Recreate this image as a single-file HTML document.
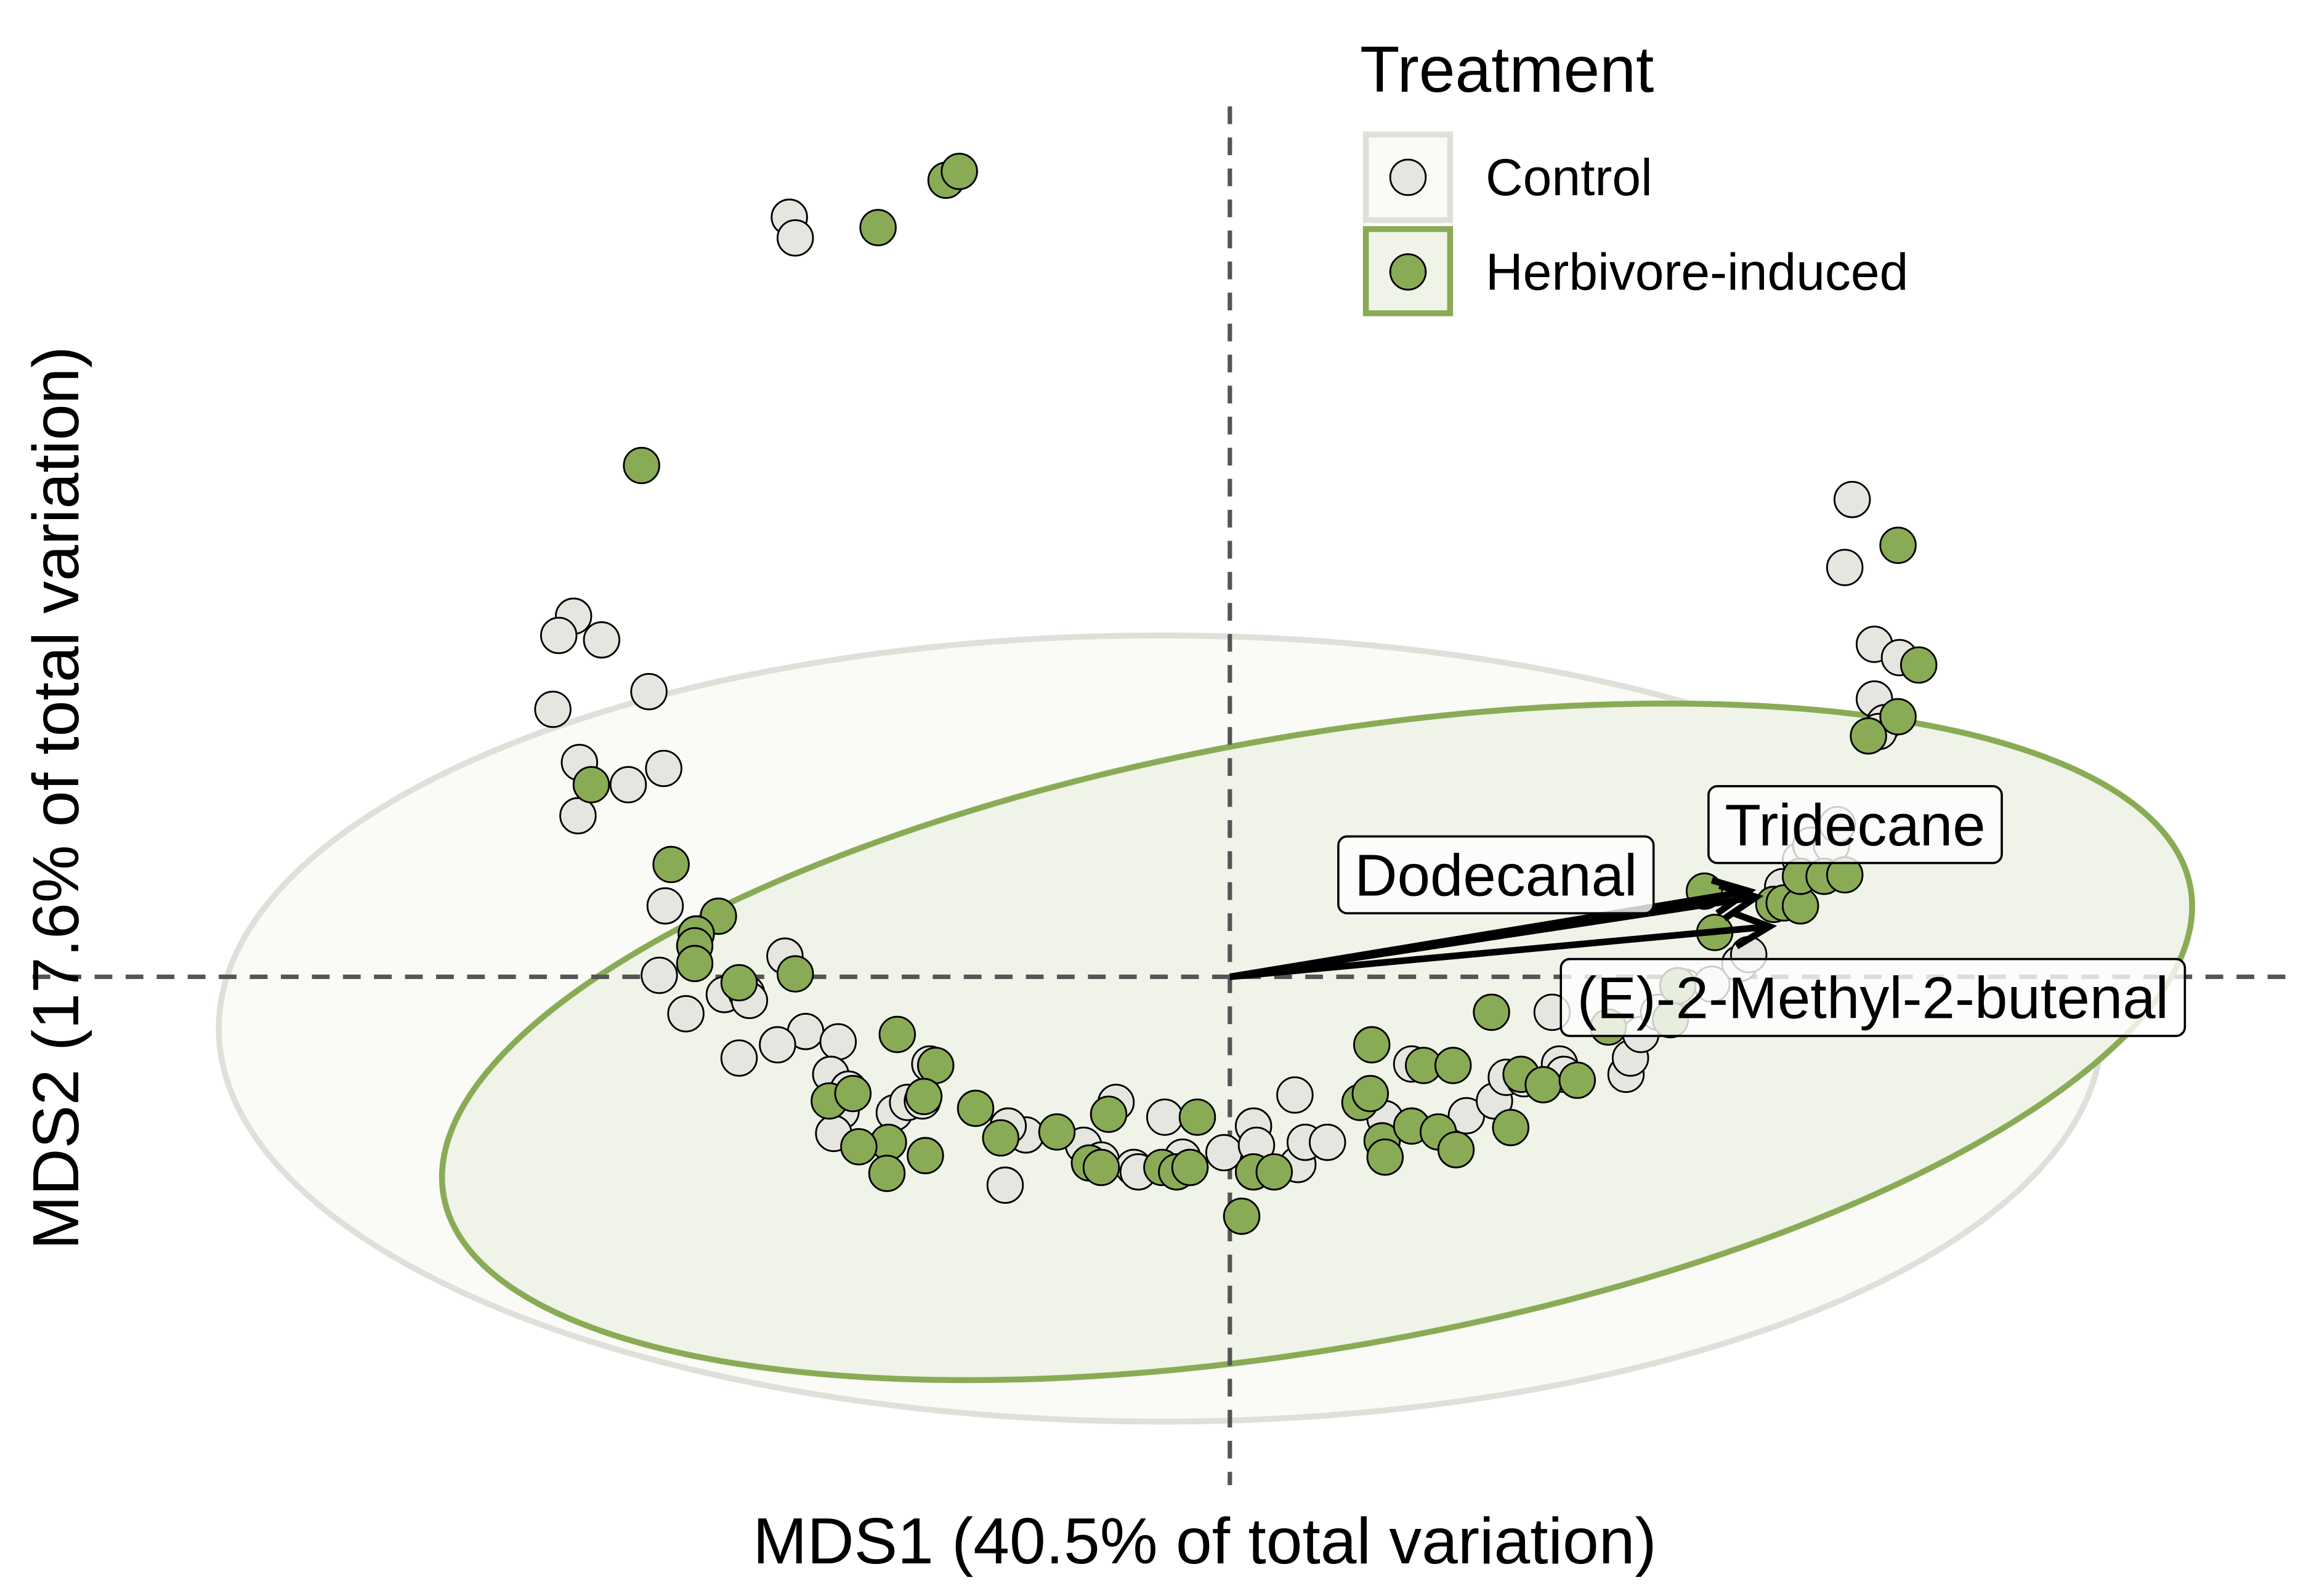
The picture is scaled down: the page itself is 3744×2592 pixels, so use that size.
<!DOCTYPE html>
<html><head><meta charset="utf-8"><style>html,body{margin:0;padding:0;background:#fff}svg{display:block}</style></head>
<body>
<svg id="chart" xmlns="http://www.w3.org/2000/svg" width="3744" height="2592" viewBox="0 0 1560 1080" font-family="Liberation Sans, sans-serif">
<rect width="1560" height="1080" fill="#fff"/>
<g id="plot"></g>
<text x="815" y="1058" font-size="44" text-anchor="middle">MDS1 (40.5% of total variation)</text>
<text transform="translate(53,540) rotate(-90)" font-size="44" text-anchor="middle">MDS2 (17.6% of total variation)</text>
<g>
<text x="920" y="62" font-size="44">Treatment</text>
<rect x="924" y="91" width="57" height="58" fill="#fafaf7" stroke="#e0e0da" stroke-width="4"/>
<circle cx="952.5" cy="120" r="12" fill="#e6e6e1" stroke="#000" stroke-width="1.2"/>
<text x="1005" y="132" font-size="35">Control</text>
<rect x="924" y="155" width="57" height="57" fill="#eff3e8" stroke="#8aab55" stroke-width="4"/>
<circle cx="952.5" cy="184" r="12" fill="#8aab55" stroke="#000" stroke-width="1.2"/>
<text x="1005" y="196" font-size="35">Herbivore-induced</text>
</g>
</svg>
<script>
const controlX=[-2.98,-2.94,-4.44,-4.54,-4.25,-3.93,-4.58,-4.40,-3.83,-4.07,-4.41,-3.82,-3.86,-3.42,-3.27,-3.25,-3.68,-3.01,-2.87,-3.06,-3.32,-2.65,-2.70,-2.58,-2.63,-2.27,-2.18,-2.68,-2.03,-2.08,-1.52,-1.38,-1.50,-0.77,-0.99,-0.87,-0.65,-0.62,-0.44,-0.32,-0.27,-0.04,0.16,0.18,0.44,0.46,0.51,0.66,1.05,1.23,1.60,1.79,1.87,1.99,2.23,2.26,2.68,2.71,2.78,2.90,3.08,3.26,3.45,3.51,2.18,3.86,3.93,4.07,4.11,3.74,4.21,4.16,4.36,4.53,4.36,4.43,4.39];
const controlY=[5.14,5.00,2.44,2.31,2.28,1.93,1.81,1.45,1.41,1.30,1.09,0.48,0.01,-0.12,-0.11,-0.16,-0.25,0.14,-0.37,-0.46,-0.55,-0.44,-0.66,-0.76,-0.91,-0.92,-0.85,-1.06,-0.59,-0.84,-1.41,-1.07,-1.01,-0.85,-1.14,-1.24,-1.29,-1.32,-0.95,-1.22,-1.29,-1.19,-1.01,-1.14,-0.80,-1.27,-1.12,-1.12,-0.96,-0.59,-0.94,-0.84,-0.68,-0.69,-0.59,-0.66,-0.66,-0.55,-0.39,-0.24,-0.07,-0.05,0.09,0.15,-0.24,0.79,0.89,0.89,1.03,0.61,3.23,2.77,2.25,2.16,1.88,1.72,1.66];
const herbX=[-2.38,-1.92,-1.83,-3.98,-4.32,-3.78,-3.46,-3.61,-3.62,-3.62,-3.32,-2.94,-2.25,-2.71,-2.55,-1.99,-2.07,-2.31,-2.51,-2.32,-2.06,-1.72,-1.55,-1.17,-0.82,-0.95,-0.87,-0.46,-0.36,-0.22,-0.27,0.08,0.16,0.30,0.88,0.96,0.95,1.31,1.51,1.03,1.05,1.23,1.41,1.53,1.90,1.97,2.12,2.35,1.77,2.56,2.98,3.03,3.21,3.28,3.68,3.75,3.86,3.86,4.02,4.16,4.52,4.66,4.52,4.32];
const herbY=[5.07,5.39,5.45,3.46,1.30,0.76,0.41,0.29,0.21,0.09,-0.04,0.02,-0.39,-0.84,-0.79,-0.60,-0.81,-1.12,-1.15,-1.33,-1.21,-0.89,-1.09,-1.05,-0.93,-1.26,-1.29,-1.29,-1.32,-0.95,-1.29,-1.62,-1.32,-1.32,-0.85,-0.46,-0.79,-0.60,-0.60,-1.11,-1.22,-1.01,-1.05,-1.17,-1.02,-0.66,-0.73,-0.70,-0.24,-0.34,-0.29,-0.06,0.58,0.30,0.49,0.50,0.48,0.68,0.68,0.69,2.92,2.11,1.76,1.63];
const vectorNames=["Dodecanal","Tridecane","(E)-2-Methyl-2-butenal"];
const vectorX=[3.51,3.56,3.65];
const vectorY=[0.58,0.54,0.34];
const labelX=[1.80,4.23,4.35];
const labelY=[0.69,1.03,-0.14];
const ellControl=[-0.47,-0.35,6.37,2.66,0];
const ellHerb=[0.59,-0.44,6.0,2.07,-10];

const X0=832,Y0=661,S=100;
const sx=v=>X0+v*S, sy=v=>Y0-v*S;
const NS="http://www.w3.org/2000/svg";
const plot=document.getElementById('plot');
function mk(tag,attrs,parent){const e=document.createElementNS(NS,tag);for(const k in attrs)e.setAttribute(k,attrs[k]);(parent||plot).appendChild(e);return e;}

function ellipse(p,fill,stroke,name){
  const e=mk('ellipse',{cx:sx(p[0]),cy:sy(p[1]),rx:p[2]*S,ry:p[3]*S,fill:fill,stroke:stroke,'stroke-width':4,transform:`rotate(${p[4]} ${sx(p[0])} ${sy(p[1])})`});
  
  
}
ellipse(ellControl,'#fafaf7','#e0e0da','ellipse-control');
ellipse(ellHerb,'#eff3e8','#8aab55','ellipse-herbivore');

let l=mk('line',{x1:sx(0),x2:sx(0),y1:72,y2:1005,stroke:'#555','stroke-width':3,'stroke-dasharray':'12 9'});


l=mk('line',{x1:22,x2:1552,y1:sy(0),y2:sy(0),stroke:'#555','stroke-width':3,'stroke-dasharray':'12 9'});



for(let i=0;i<controlX.length;i++){
  const c=mk('circle',{cx:sx(controlX[i]),cy:sy(controlY[i]),r:12,fill:'#e6e6e1',stroke:'#000','stroke-width':1.2});
  
  
}
for(let i=0;i<herbX.length;i++){
  const c=mk('circle',{cx:sx(herbX[i]),cy:sy(herbY[i]),r:12,fill:'#8aab55',stroke:'#000','stroke-width':1.2});
  
  
}
for(let i=0;i<vectorX.length;i++){
  const x1=sx(0),y1=sy(0),x2=sx(vectorX[i]),y2=sy(vectorY[i]);
  const a=Math.atan2(y2-y1,x2-x1),h=26,w=0.45;
  const d=`M${x1},${y1}L${x2},${y2}M${x2-h*Math.cos(a-w)},${y2-h*Math.sin(a-w)}L${x2},${y2}L${x2-h*Math.cos(a+w)},${y2-h*Math.sin(a+w)}`;
  const p=mk('path',{d:d,fill:'none',stroke:'#000','stroke-width':4.5,'stroke-linejoin':'miter'});
  
  
}
for(let i=0;i<vectorNames.length;i++){
  const g=mk('g',{});
  
  
  const t=mk('text',{x:sx(labelX[i]),y:sy(labelY[i])+14,'font-size':40,'text-anchor':'middle'},g);
  t.textContent=vectorNames[i];
  const bb=t.getBBox();
  const r=mk('rect',{x:bb.x-11,y:sy(labelY[i])-26,width:bb.width+22,height:52,rx:6,fill:'rgba(255,255,255,0.8)',stroke:'#000','stroke-width':1.5});
  g.insertBefore(r,t);
}
</script>
</body></html>
